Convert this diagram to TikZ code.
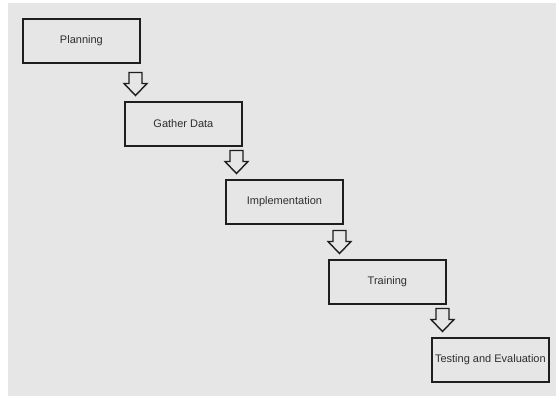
\documentclass[tikz,border=0pt]{standalone}
\usepackage{fontspec}
\setmainfont{Liberation Sans}
\usetikzlibrary{calc}
\definecolor{bg}{HTML}{E6E6E6}
\definecolor{ink}{HTML}{1E1E1E}
\definecolor{txt}{HTML}{2E2E2E}
\begin{document}
\begin{tikzpicture}[x=1pt,y=-1pt,
  stage/.style={draw=ink, line width=1.8pt, minimum width=117pt, minimum height=44pt,
    inner sep=0pt, font=\fontsize{11}{13}\selectfont, text=txt, anchor=north west},
  hollow/.style={draw=ink, line width=1.4pt, fill=bg, line join=miter}]
\useasboundingbox (0,0) rectangle (556,396);
\fill[white] (0,0) rectangle (556,396);
\fill[bg] (8,3) rectangle (556,396);
\node[stage] (b1) at (22,18) {Planning};
\node[stage] (b2) at (124,101) {Gather Data};
\node[stage] (b3) at (225,179) {Implementation};
\node[stage] (b4) at (328,259) {Training};
\node[stage] (b5) at (431,337) {Testing and Evaluation};
\foreach \n in {2,3,4,5}{
  \coordinate (t\n) at ($(b\n.north west)+(11.5,-5.5)$);
  \draw[hollow] (t\n) -- ++(-11.5,-12) -- ++(5,0) -- ++(0,-11) -- ++(13,0)
    -- ++(0,11) -- ++(5,0) -- cycle;
}
\end{tikzpicture}
\end{document}
